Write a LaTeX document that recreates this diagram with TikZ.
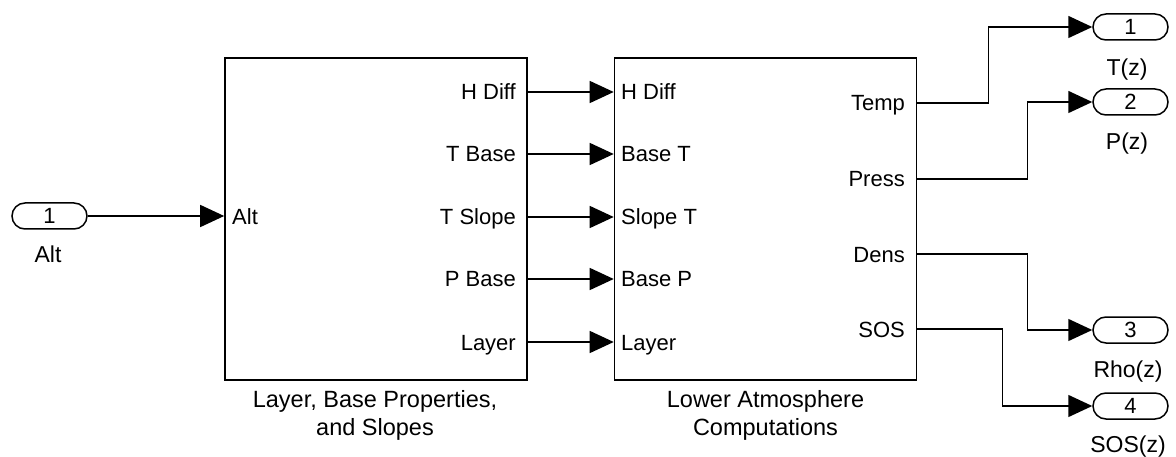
\documentclass[tikz,border=0pt]{standalone}
\usepackage{fontspec}
\setmainfont{Liberation Sans}
\usetikzlibrary{arrows.meta}
\tikzset{
  blk/.style={draw, line width=1.6pt, minimum width=302pt, minimum height=322pt, inner sep=0pt},
  port/.style={draw, line width=1.5pt, rounded corners=13pt, minimum width=75pt, minimum height=26pt, inner sep=0pt, font=\fontsize{22}{24}\selectfont},
  sig/.style={line width=1.5pt, -{Triangle[length=24pt,width=22pt]}},
  lbl/.style={inner sep=0pt, text height=16pt, text depth=0pt, font=\fontsize{22}{24}\selectfont},
  portname/.style={lbl, font=\fontsize{23}{26}\selectfont},
  blkname/.style={inner sep=0pt, anchor=base, font=\fontsize{23.5}{26}\selectfont}
}
\begin{document}
\begin{tikzpicture}[x=1pt,y=-1pt]
  \useasboundingbox (0,0) rectangle (1176,457);
  \node[blk] (lay) at (376,219) {};
  \node[blk] (atm) at (765.5,219) {};
  \node[blkname] at (375,407) {Layer, Base Properties,};
  \node[blkname] at (375,435) {and Slopes};
  \node[blkname] at (765.5,407) {Lower Atmosphere};
  \node[blkname] at (765.5,435) {Computations};

  \node[port] (in1) at (49.5,216) {1};
  \node[portname] at (48,254) {Alt};
  \node[port] (out1) at (1130.5,27) {1};
  \node[portname] at (1127,68) {T(z)};
  \node[port] (out2) at (1130.5,102) {2};
  \node[portname] at (1127,142) {P(z)};
  \node[port] (out3) at (1130.5,330) {3};
  \node[portname] at (1128,369) {Rho(z)};
  \node[port] (out4) at (1130.5,406) {4};
  \node[portname] at (1128,444) {SOS(z)};

  \node[lbl, anchor=west] (alt) at (232,217) {Alt};
  \node[lbl, anchor=east] (hdo) at (516,92) {H Diff};
  \node[lbl, anchor=east] (tbo) at (516,154) {T Base};
  \node[lbl, anchor=east] (tso) at (516,217) {T Slope};
  \node[lbl, anchor=east] (pbo) at (516,279) {P Base};
  \node[lbl, anchor=east] (lyo) at (516,342) {Layer};

  \node[lbl, anchor=west] (hdi) at (621,92) {H Diff};
  \node[lbl, anchor=west] (tbi) at (621,154) {Base T};
  \node[lbl, anchor=west] (tsi) at (621,217) {Slope T};
  \node[lbl, anchor=west] (pbi) at (621,279) {Base P};
  \node[lbl, anchor=west] (lyi) at (621,342) {Layer};

  \node[lbl, anchor=east] (temp) at (905,103) {Temp};
  \node[lbl, anchor=east] (press) at (905,179) {Press};
  \node[lbl, anchor=east] (dens) at (905,254) {Dens};
  \node[lbl, anchor=east] (sos) at (905,329) {SOS};

  \begin{scope}[sig]
    \draw (in1.east) -- (lay.west |- in1.east);
    \draw (lay.east |- hdo) -- (atm.west |- hdi);
    \draw (lay.east |- tbo) -- (atm.west |- tbi);
    \draw (lay.east |- tso) -- (atm.west |- tsi);
    \draw (lay.east |- pbo) -- (atm.west |- pbi);
    \draw (lay.east |- lyo) -- (atm.west |- lyi);
    \draw (atm.east |- temp) -- ++(71,0) |- (out1.west);
    \draw (atm.east |- press) -- ++(110,0) |- (out2.west);
    \draw (atm.east |- dens) -- ++(110,0) |- (out3.west);
    \draw (atm.east |- sos) -- ++(85,0) |- (out4.west);
  \end{scope}
\end{tikzpicture}
\end{document}
